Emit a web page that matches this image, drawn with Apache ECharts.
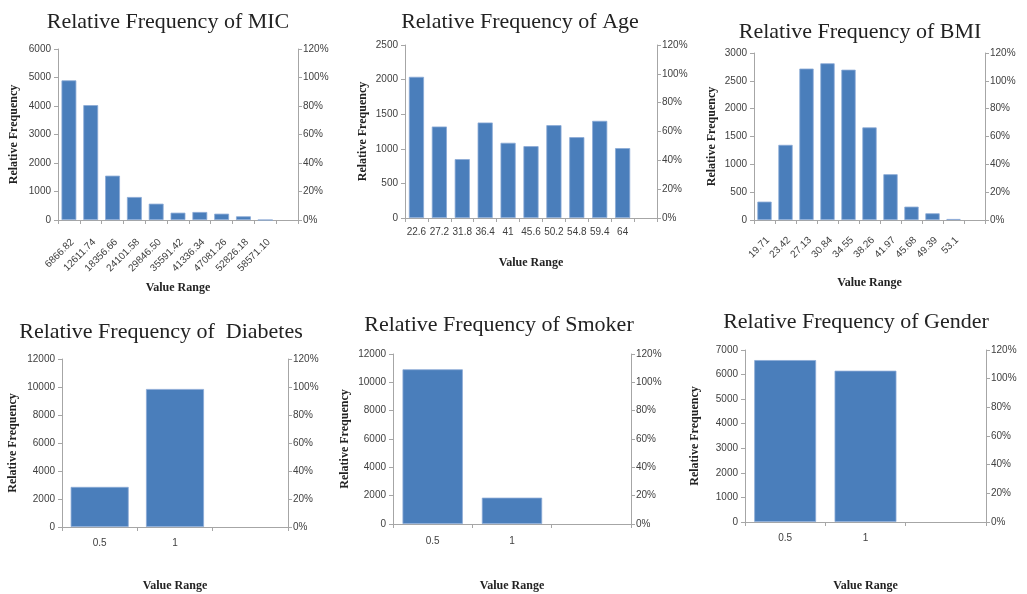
<!DOCTYPE html>
<html>
<head>
<meta charset="utf-8">
<script src="https://cdn.jsdelivr.net/npm/echarts@6/dist/echarts.min.js"></script>
<style>
html,body{margin:0;padding:0;background:#fff;}
#chart{width:1027px;height:594px;}
</style>
</head>
<body>
<div id="chart"></div>
<script>
// ---- data ----
const micCats = ['6866.82','12611.74','18356.66','24101.58','29846.50','35591.42','41336.34','47081.26','52826.18','58571.10',''];
const micVals = [4900, 4030, 1556, 807, 573, 257, 281, 222, 129, 0, null];

const ageCats = ['22.6','27.2','31.8','36.4','41','45.6','50.2','54.8','59.4','64',''];
const ageVals = [2040, 1322, 851, 1380, 1087, 1038, 1341, 1168, 1404, 1010, null];

const bmiCats = ['19.71','23.42','27.13','30.84','34.55','38.26','41.97','45.68','49.39','53.1',''];
const bmiVals = [330, 1350, 2720, 2815, 2700, 1663, 822, 240, 120, 18, null];

const diabetesCats = ['0.5','1',''];
const diabetesVals = [2864, 9857, null];

const smokerCats = ['0.5','1',''];
const smokerVals = [10918, 1859, null];

const genderCats = ['0.5','1',''];
const genderVals = [6590, 6157, null];

const titles = ['Relative Frequency of MIC','Relative Frequency of Age','Relative Frequency of BMI',
                'Relative Frequency of  Diabetes','Relative Frequency of Smoker','Relative Frequency of Gender'];
const leftMax = [6000, 2500, 3000, 12000, 12000, 7000];
const leftInterval = [1000, 500, 500, 2000, 2000, 1000];
const pctMax = 1.2, pctInterval = 0.2;
const yName = 'Relative Frequency';
const xName = 'Value Range';

// ---- layout ----
const panels = [
  {cats: micCats, vals: micVals, grid:{left:58, top:49, width:240, height:171}, rot:45, gap:'32%', xNameGap:62, yNameGap:38, labelMargin:17, title:{x:168, y:11}},
  {cats: ageCats, vals: ageVals, grid:{left:405, top:45, width:252, height:173}, rot:0, gap:'34%', xNameGap:39, yNameGap:36, labelMargin:9, title:{x:520, y:11}},
  {cats: bmiCats, vals: bmiVals, grid:{left:754, top:53, width:231, height:167}, rot:45, gap:'32%', xNameGap:57, yNameGap:36, labelMargin:15, title:{x:860, y:21}},
  {cats: diabetesCats, vals: diabetesVals, grid:{left:62, top:359, width:226, height:168}, rot:0, gap:'23%', xNameGap:53, yNameGap:43, labelMargin:11, title:{x:161, y:321}},
  {cats: smokerCats, vals: smokerVals, grid:{left:393, top:354, width:238, height:170}, rot:0, gap:'24%', xNameGap:56, yNameGap:42, labelMargin:12, title:{x:499, y:314}},
  {cats: genderCats, vals: genderVals, grid:{left:745, top:350, width:241, height:172}, rot:0, gap:'23%', xNameGap:58, yNameGap:44, labelMargin:11, title:{x:856, y:311}}
];

const axisColor = '#a6a6a6';
const labelColor = '#404040';
const tickFont = "'Liberation Sans', Arial, sans-serif";
const serif = "'Liberation Serif', 'Times New Roman', serif";

const option = {
  backgroundColor: '#fff',
  animation: false,
  title: [], grid: [], xAxis: [], yAxis: [], series: []
};

panels.forEach((p, i) => {
  option.title.push({
    text: titles[i], left: p.title.x, top: p.title.y, textAlign: 'center', padding: 0,
    textStyle: {fontFamily: serif, fontSize: 22, fontWeight: 'normal', color: '#222'}
  });
  option.grid.push(Object.assign({containLabel: false}, p.grid));
  const xLabel = {interval: 0, rotate: p.rot, margin: p.labelMargin, hideOverlap: false,
                  fontFamily: tickFont, fontSize: 10, color: labelColor};
  if (p.rot) xLabel.verticalAlign = 'top';
  option.xAxis.push({
    type: 'category', gridIndex: i, data: p.cats,
    name: xName, nameLocation: 'middle', nameGap: p.xNameGap,
    nameTextStyle: {fontFamily: serif, fontSize: 12, fontWeight: 'bold', color: '#222'},
    axisLine: {lineStyle: {color: axisColor}},
    axisTick: {show: true, length: 4, lineStyle: {color: axisColor}},
    axisLabel: xLabel
  });
  option.yAxis.push({
    type: 'value', gridIndex: i, min: 0, max: leftMax[i], interval: leftInterval[i],
    name: yName, nameLocation: 'middle', nameRotate: 90, nameGap: p.yNameGap,
    nameTextStyle: {fontFamily: serif, fontSize: 12, fontWeight: 'bold', color: '#222'},
    axisLine: {show: true, lineStyle: {color: axisColor}},
    axisTick: {show: true, length: 4, lineStyle: {color: axisColor}},
    splitLine: {show: false},
    axisLabel: {margin: 7, fontFamily: tickFont, fontSize: 10, color: labelColor,
                formatter: v => String(v)}
  });
  option.yAxis.push({
    type: 'value', gridIndex: i, position: 'right', min: 0, max: pctMax, interval: pctInterval,
    axisLine: {show: true, lineStyle: {color: axisColor}},
    axisTick: {show: true, length: 4, lineStyle: {color: axisColor}},
    splitLine: {show: false},
    axisLabel: {margin: 5, fontFamily: tickFont, fontSize: 10, color: labelColor,
                formatter: v => Math.round(v * 100) + '%'}
  });
  option.series.push({
    type: 'bar', xAxisIndex: i, yAxisIndex: i * 2, data: p.vals,
    barCategoryGap: p.gap,
    itemStyle: {color: '#4a7ebb', borderColor: '#8aa9d6', borderWidth: 0.8}
  });
});

const chart = echarts.init(document.getElementById('chart'), null, {renderer: 'canvas'});
chart.setOption(option);
</script>
</body>
</html>
